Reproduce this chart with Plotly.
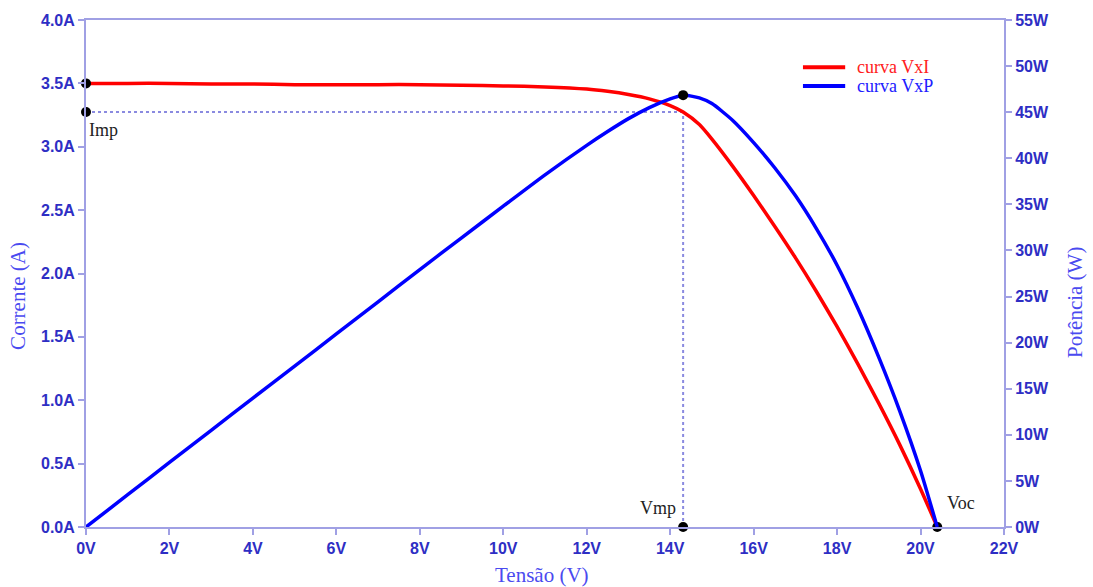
import plotly.graph_objects as go

# Data
voltage = [0, 1, 2, 3, 4, 5, 6, 7, 8, 9, 10, 11, 12, 12.5, 13, 13.5, 14, 14.31,
           14.7, 15, 15.5, 16, 16.5, 17, 17.5, 18, 18.5, 19, 19.5, 20, 20.4]
current = [3.50, 3.50, 3.50, 3.495, 3.495, 3.49, 3.49, 3.49, 3.49, 3.485, 3.48,
           3.472, 3.455, 3.437, 3.412, 3.378, 3.325, 3.274, 3.175, 3.06, 2.845,
           2.615, 2.375, 2.125, 1.86, 1.58, 1.285, 0.975, 0.65, 0.30, 0.0]
power = [0, 3.5, 7.0, 10.49, 13.98, 17.45, 20.94, 24.43, 27.92, 31.37, 34.8,
         38.2, 41.4, 42.9, 44.3, 45.5, 46.45, 46.85, 46.55, 45.93, 44.1, 41.7,
         39.0, 35.95, 32.4, 28.4, 23.7, 18.4, 12.6, 6.1, 0.0]

vmp, imp, pmax, voc = 14.31, 3.274, 46.85, 20.4
isc = 3.50

x_ticks = list(range(0, 23, 2))
i_ticks = [i * 0.5 for i in range(9)]
p_ticks = list(range(0, 56, 5))

axis_col = "#a0a0e4"
tick_col = "#2e2ec4"
title_col = "#4a4af0"
tick_font = dict(family="Liberation Sans", size=16, color=tick_col, weight="bold")
title_font = dict(family="Liberation Serif", size=21, color=title_col)

fig = go.Figure()

# guide dotted lines
fig.add_trace(go.Scatter(x=[0, vmp], y=[imp, imp], mode="lines",
                         line=dict(color="#8a8ae0", width=2, dash="dot"),
                         showlegend=False, hoverinfo="skip"))
fig.add_trace(go.Scatter(x=[vmp, vmp], y=[0, imp], mode="lines",
                         line=dict(color="#8a8ae0", width=2, dash="dot"),
                         showlegend=False, hoverinfo="skip"))

fig.add_trace(go.Scatter(x=voltage, y=current, mode="lines",
                         line=dict(color="#ff0000", width=3.5, shape="spline",
                                   smoothing=0.6),
                         name="curva VxI", showlegend=False))
fig.add_trace(go.Scatter(x=voltage, y=power, mode="lines", yaxis="y2",
                         line=dict(color="#0000ff", width=3.5, shape="spline",
                                   smoothing=0.6),
                         name="curva VxP", showlegend=False))

# points
fig.add_trace(go.Scatter(x=[0, 0, vmp, voc], y=[isc, imp, 0, 0], mode="markers",
                         marker=dict(color="black", size=10), cliponaxis=False,
                         showlegend=False, hoverinfo="skip"))
fig.add_trace(go.Scatter(x=[vmp], y=[pmax], mode="markers", yaxis="y2",
                         marker=dict(color="black", size=10), cliponaxis=False,
                         showlegend=False, hoverinfo="skip"))

ann_font = dict(family="Liberation Serif", size=18, color="#222222")
fig.add_annotation(x=0, y=3.13, text="Imp", showarrow=False, xanchor="left",
                   yanchor="middle", xshift=1, font=ann_font)
fig.add_annotation(x=vmp, y=0.15, text="Vmp", showarrow=False, xanchor="right",
                   yanchor="middle", xshift=-5, font=ann_font)
fig.add_annotation(x=voc, y=0.19, text="Voc", showarrow=False, xanchor="left",
                   yanchor="middle", xshift=8, font=ann_font)

# axis titles
fig.add_annotation(x=-0.074, y=0.456, xref="paper", yref="paper",
                   xanchor="center", yanchor="middle",
                   text="Corrente (A)", textangle=-90, showarrow=False,
                   font=title_font)
fig.add_annotation(x=1.0774, y=0.442, xref="paper", yref="paper",
                   xanchor="center", yanchor="middle",
                   text="Potência (W)", textangle=-90, showarrow=False,
                   font=title_font)
fig.add_annotation(x=0.497, y=-0.095, xref="paper", yref="paper",
                   xanchor="center", yanchor="middle",
                   text="Tensão (V)", showarrow=False, font=title_font)

# legend drawn manually
legend_items = [("curva VxI", "#ff0000", "#ff2020", 0.907),
                ("curva VxP", "#0000ff", "#2020ff", 0.870)]
for label, lcol, tcol, ly in legend_items:
    fig.add_shape(type="line", xref="paper", yref="paper",
                  x0=0.781, x1=0.827, y0=ly, y1=ly,
                  line=dict(color=lcol, width=4))
    fig.add_annotation(x=0.838, y=ly, xref="paper", yref="paper", text=label,
                       showarrow=False, xanchor="left", yanchor="middle",
                       font=dict(family="Liberation Serif", size=18, color=tcol))

fig.update_layout(
    width=1093, height=587,
    margin=dict(l=86, r=89, t=20, b=60),
    paper_bgcolor="white", plot_bgcolor="white",
    showlegend=False,
    xaxis=dict(range=[0, 22], tickvals=x_ticks,
               ticktext=[f"{v}V" for v in x_ticks],
               showline=True, linecolor=axis_col, linewidth=2, mirror=True,
               ticks="outside", ticklen=6, tickcolor=axis_col, tickwidth=2,
               showgrid=False, zeroline=False, tickfont=tick_font),
    yaxis=dict(range=[0, 4], tickvals=i_ticks,
               ticktext=[f"{v:.1f}A" for v in i_ticks],
               showline=True, linecolor=axis_col, linewidth=2,
               ticks="outside", ticklen=6, tickcolor=axis_col, tickwidth=2,
               showgrid=False, zeroline=False, tickfont=tick_font),
    yaxis2=dict(range=[0, 55], tickvals=p_ticks,
                ticktext=[f"{v}W" for v in p_ticks],
                overlaying="y", side="right",
                showline=True, linecolor=axis_col, linewidth=2,
                ticks="outside", ticklen=6, tickcolor=axis_col, tickwidth=2,
                showgrid=False, zeroline=False, tickfont=tick_font),
)

fig.write_html("out.html")
